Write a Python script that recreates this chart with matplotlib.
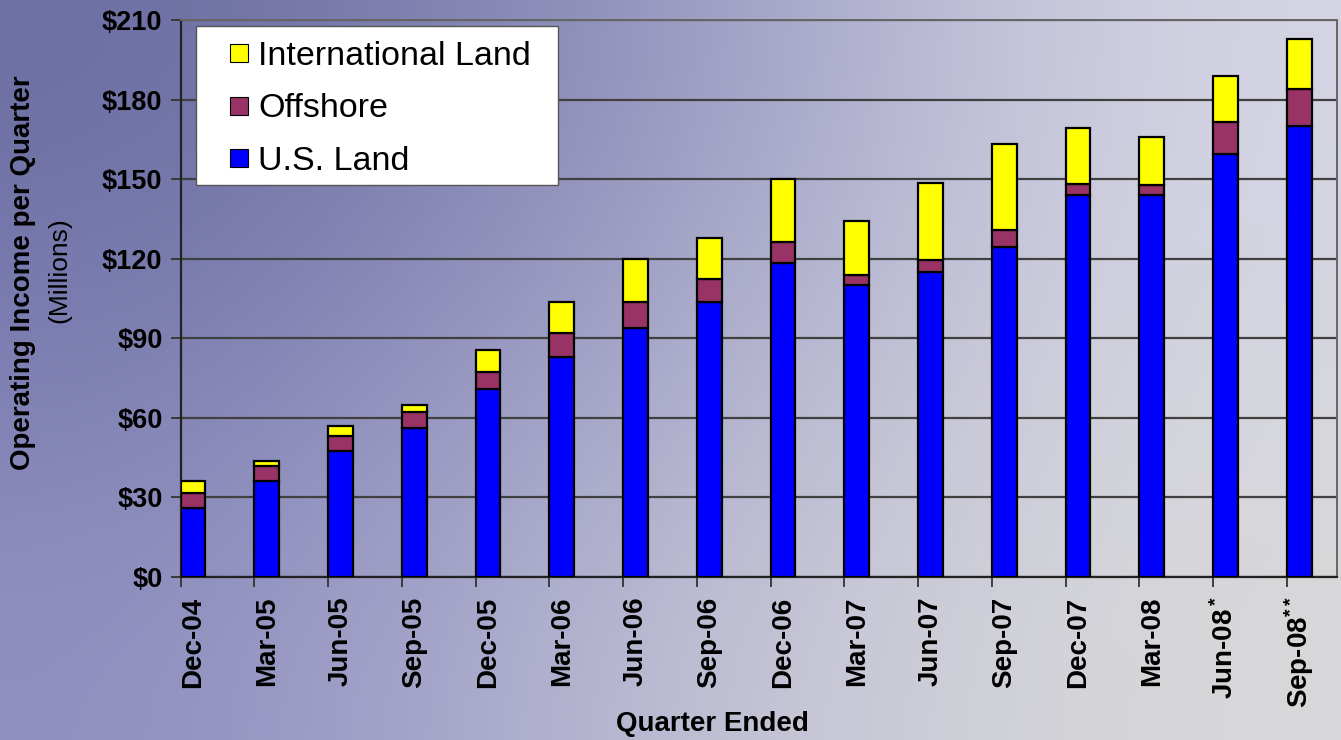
import numpy as np
import matplotlib.pyplot as plt
from matplotlib.lines import Line2D
from matplotlib.patches import Rectangle

plt.rcParams['font.family'] = ['Liberation Sans', 'DejaVu Sans']
plt.rcParams['mathtext.fontset'] = 'custom'
plt.rcParams['mathtext.rm'] = 'Liberation Sans:bold'
plt.rcParams['mathtext.it'] = 'Liberation Sans:bold'
plt.rcParams['mathtext.bf'] = 'Liberation Sans:bold'

# quarterly operating income by segment, $ millions
quarters = ['Dec-04', 'Mar-05', 'Jun-05', 'Sep-05', 'Dec-05', 'Mar-06', 'Jun-06', 'Sep-06',
            'Dec-06', 'Mar-07', 'Jun-07', 'Sep-07', 'Dec-07', 'Mar-08', 'Jun-08$^*$', 'Sep-08$^{**}$']
us_land = [26, 36, 47.5, 56, 71, 83, 94, 103.5, 118.5, 110, 115, 124.5, 144, 144, 159.5, 170]
offshore = [5.7, 5.7, 5.7, 6.2, 6.3, 9, 9.5, 9, 7.7, 4, 4.5, 6.3, 4.3, 3.6, 12, 14]
intl_land = [4.5, 2, 3.8, 2.8, 8.3, 11.6, 16.3, 15.3, 24, 20.2, 29.2, 32.4, 21.1, 18.4, 17.4, 19]

c_us = '#0000ff'
c_off = '#993366'
c_intl = '#ffff00'

W, H = 1341, 740
fig = plt.figure(figsize=(W / 100, H / 100), dpi=100)

# slate-to-lavender backdrop
bg = fig.add_axes([0, 0, 1, 1], zorder=-10)
grad = np.array([
    [[108, 109, 161], [150, 151, 192], [214, 214, 229]],
    [[125, 126, 178], [172, 172, 205], [216, 216, 224]],
    [[143, 143, 192], [192, 192, 214], [217, 217, 217]],
]) / 255.0
bg.imshow(grad, aspect='auto', interpolation='bicubic', extent=[0, 1, 0, 1])
bg.set_axis_off()

ax = fig.add_axes([0.1347, 0.2203, 0.8623, 0.7527])
ax.patch.set_alpha(0)

x = np.arange(len(quarters))
w = 0.335
bottom2 = np.array(us_land) + np.array(offshore)
bar_kw = dict(width=w, align='edge', edgecolor='black', linewidth=1.6, zorder=3)
ax.bar(x, us_land, color=c_us, **bar_kw)
ax.bar(x, offshore, bottom=us_land, color=c_off, **bar_kw)
ax.bar(x, intl_land, bottom=bottom2, color=c_intl, **bar_kw)

ax.set_xlim(0, 15.68)
ax.set_ylim(0, 210)
ax.set_yticks(np.arange(0, 211, 30))
ax.set_yticklabels(['$%d' % v for v in range(0, 211, 30)], fontsize=19.5, fontweight='bold')
ax.yaxis.grid(True, color='#404040', linewidth=1.6, zorder=1)
ax.tick_params(axis='y', length=7, width=1.3, color='#333333', pad=6)

ax.set_xticks(x + w / 2)
ax.set_xticklabels(quarters, rotation=90, fontsize=20, fontweight='bold')
ax.set_xticks(x, minor=True)
ax.tick_params(axis='x', which='major', length=0, pad=14)
ax.tick_params(axis='x', which='minor', length=7, width=1.3, color='#333333')

for side in ['left', 'bottom']:
    ax.spines[side].set_color('#222222')
    ax.spines[side].set_linewidth(1.6)
for side in ['top', 'right']:
    ax.spines[side].set_color('#666666')
    ax.spines[side].set_linewidth(1.4)

fig.text(0.0175, 0.632, 'Operating Income per Quarter', rotation=90, ha='center', va='center',
         fontsize=20, fontweight='bold')
fig.text(0.044, 0.635, '(Millions)', rotation=90, ha='center', va='center', fontsize=19)
fig.text(0.531, 0.022, 'Quarter Ended', ha='center', va='center', fontsize=20, fontweight='bold')

# legend: white box drawn separately so the padding can be uneven
box = Rectangle((196 / W, 1 - 185 / H), 362 / W, 159 / H, transform=fig.transFigure,
                facecolor='white', edgecolor='#555555', linewidth=1.0, zorder=4)
fig.patches.append(box)

def swatch(color):
    return Line2D([], [], linestyle='none', marker='s', markersize=13,
                  markerfacecolor=color, markeredgecolor='black', markeredgewidth=0.8)

handles = [swatch(c_intl), swatch(c_off), swatch(c_us)]
leg = fig.legend(handles, ['International Land', 'Offshore', 'U.S. Land'],
                 loc='upper left', bbox_to_anchor=(229 / W, 1 - 41 / H), fontsize=24.5,
                 handlelength=0.6, handletextpad=0.25,
                 labelspacing=0.63, borderpad=0, borderaxespad=0, frameon=False)
leg.set_zorder(5)

fig.savefig('out.png', dpi=100)
